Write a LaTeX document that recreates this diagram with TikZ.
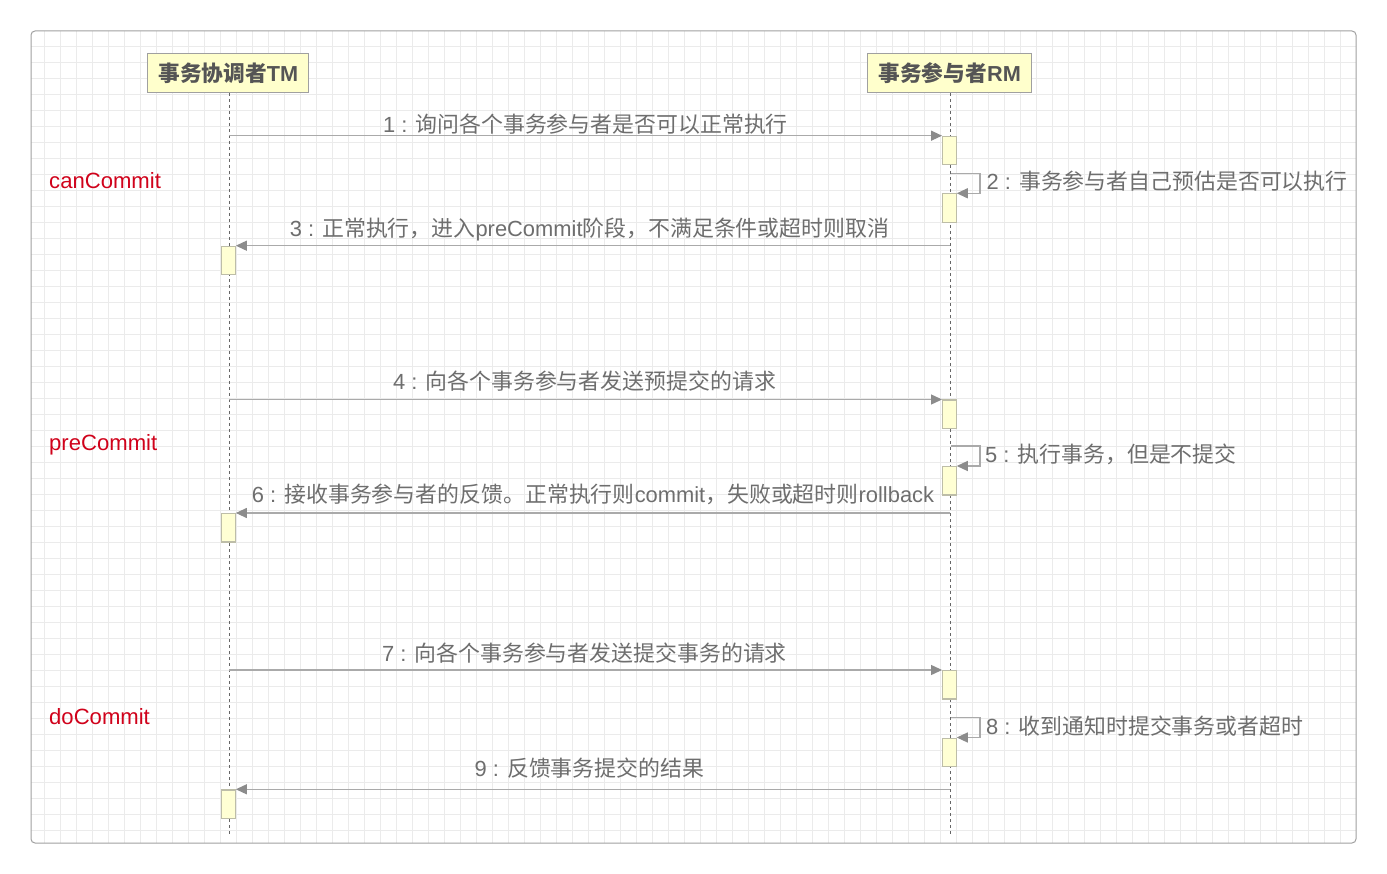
\documentclass[tikz,border=0pt]{standalone}
\usepackage{fontspec}
\setmainfont{Liberation Sans}
\newfontfamily\cjk{Noto Sans CJK SC}
\usetikzlibrary{arrows.meta}
\newcommand\C[1]{{\cjk #1}}
\definecolor{gridc}{HTML}{EBEBEB}
\definecolor{framec}{HTML}{A0A0A0}
\definecolor{linec}{HTML}{AAAAAA}
\definecolor{tipc}{HTML}{8C8C8C}
\definecolor{txtc}{HTML}{6E6E6E}
\definecolor{headtxt}{HTML}{555555}
\definecolor{actfill}{HTML}{FFFFD4}
\definecolor{actdraw}{HTML}{BDBDA8}
\definecolor{headfill}{HTML}{FFFFCC}
\definecolor{phasec}{HTML}{D0021B}
\begin{document}
\begin{tikzpicture}[x=1pt,y=-1pt,
  header/.style={draw=framec,fill=headfill,line width=1.2pt,minimum height=39.4pt,inner sep=0pt,text=headtxt,font=\fontsize{21.7}{25}\selectfont\bfseries},
  act/.style={draw=actdraw,fill=actfill,line width=1.2pt,minimum width=13.5pt,minimum height=28.3pt,inner sep=0pt,anchor=north},
  life/.style={draw=black!60,line width=0.6pt,dash pattern=on 3pt off 3pt},
  msg/.style={draw=linec,line width=1.2pt,-{Triangle[length=11pt,width=10pt,color=tipc]}},
  lbl/.style={text=txtc,inner sep=0pt,font=\fontsize{21.9}{25}\selectfont},
  phase/.style={text=phasec,inner sep=0pt,anchor=west,font=\fontsize{22.1}{25}\selectfont}]
\useasboundingbox (0,0) rectangle (1387,874);
% background grid
\begin{scope}
\clip[rounded corners=4pt] (31,31) rectangle (1356,843);
\fill[white] (31,31) rectangle (1356,843);
\foreach \i in {0,...,82} {\draw[gridc,line width=0.8pt] ({44.3+16*\i},31) -- ({44.3+16*\i},843);}
\foreach \j in {0,...,50} {\draw[gridc,line width=0.8pt] (31,{46+16*\j}) -- (1356,{46+16*\j});}
\end{scope}
\draw[framec,line width=1pt,rounded corners=4pt] (31,31) rectangle (1356,843);

% headers
\node[header,minimum width=161pt] (tm) at (228.3,73) {\C{事务协调者}TM};
\node[header,minimum width=164pt] (rm) at (949.7,73) {\C{事务参与者}RM};

% lifelines
\coordinate (tmend) at (229.3,834);
\coordinate (rmend) at (950.3,834);
\draw[life] (229.3,93) -- (tmend);
\draw[life] (950.3,93) -- (rmend);

% activation boxes
\node[act] (rm1) at (949.4,135.7) {};
\node[act] (rm2) at (949.4,193.3) {};
\node[act] (tm1) at (228.5,245.7) {};
\node[act] (rm3) at (949.4,399.5) {};
\node[act] (rm4) at (949.4,466) {};
\node[act] (tm2) at (228.5,513) {};
\node[act] (rm5) at (949.4,670) {};
\node[act] (rm6) at (949.4,737.5) {};
\node[act] (tm3) at (228.5,789.3) {};

% message start points on lifelines
\coordinate (s1) at (229.3,135.7);
\coordinate (s2) at (951,173.7);
\coordinate (s3) at (950.3,245.7);
\coordinate (s4) at (229.3,399.5);
\coordinate (s5) at (951,446);
\coordinate (s6) at (950.3,513);
\coordinate (s7) at (229.3,670);
\coordinate (s8) at (951,717.7);
\coordinate (s9) at (950.3,789.3);

% messages
\draw[msg] (s1) -- (rm1.north west);
\draw[msg] (s2) -- (980,173.7) -- (980,193.3) -- (rm2.north east);
\draw[msg] (s3) -- (tm1.north east);
\draw[msg] (s4) -- (rm3.north west);
\draw[msg] (s5) -- (980,446) -- (980,466) -- (rm4.north east);
\draw[msg] (s6) -- (tm2.north east);
\draw[msg] (s7) -- (rm5.north west);
\draw[msg] (s8) -- (980,717.7) -- (980,737.5) -- (rm6.north east);
\draw[msg] (s9) -- (tm3.north east);

% labels
\node[lbl] (l1) at (585.5,124) {1 : \C{询问各个事务参与者是否可以正常执行}};
\node[lbl,anchor=west] (l2) at (986.5,181) {2 : \C{事务参与者自己预估是否可以执行}};
\node[lbl] (l3) at (589.5,229.5) {3 : \C{正常执行，进入}preCommit\C{阶段，不满足条件或超时则取消}};
\node[lbl] (l4) at (584.5,381.5) {4 : \C{向各个事务参与者发送预提交的请求}};
\node[lbl,anchor=west] (l5) at (985,454.5) {5 : \C{执行事务，但是不提交}};
\node[lbl] (l6) at (593,494) {6 : \C{接收事务参与者的反馈。正常执行则}commit\C{，失败或超时则}rollback};
\node[lbl] (l7) at (584.5,653) {7 : \C{向各个事务参与者发送提交事务的请求}};
\node[lbl,anchor=west] (l8) at (986,726.5) {8 : \C{收到通知时提交事务或者超时}};
\node[lbl] (l9) at (589.5,768) {9 : \C{反馈事务提交的结果}};

% phases
\node[phase] (p1) at (49,180.5) {canCommit};
\node[phase] (p2) at (49,444.5) {preCommit};
\node[phase] (p3) at (49,716.5) {doCommit};
\end{tikzpicture}
\end{document}
